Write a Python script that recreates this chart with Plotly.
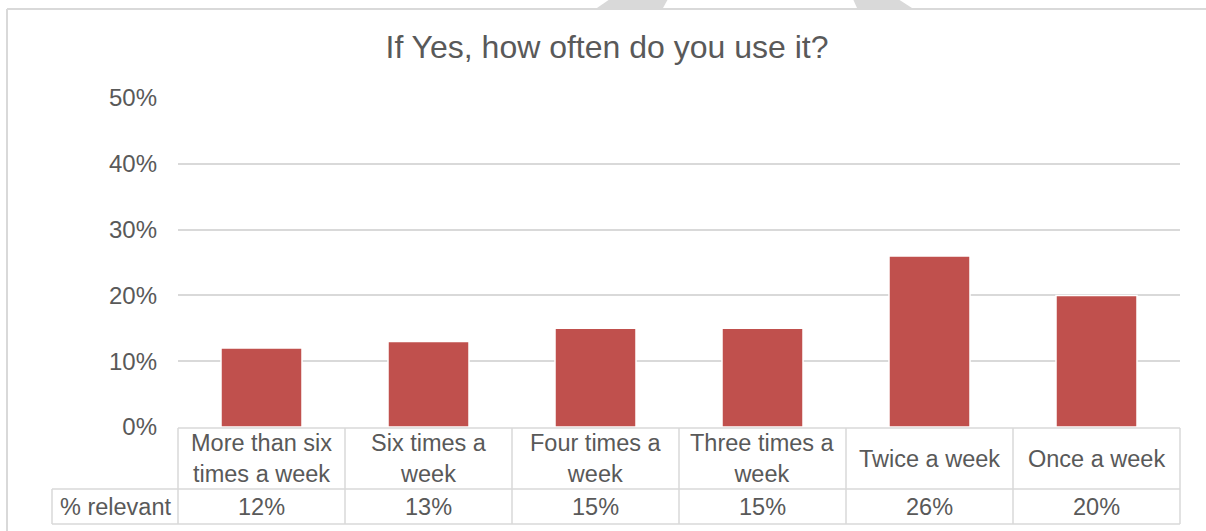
import plotly.graph_objects as go

# Survey answers: frequency of use (share of respondents)
categories = [
    "More than six<br>times a week",
    "Six times a<br>week",
    "Four times a<br>week",
    "Three times a<br>week",
    "Twice a week",
    "Once a week",
]
shares = [0.12, 0.13, 0.15, 0.15, 0.26, 0.20]
row_label = "% relevant"
title_text = "If Yes, how often do you use it?"
y_ticks = [0, 0.1, 0.2, 0.3, 0.4, 0.5]

W, H = 1206, 531
PLOT_L, PLOT_R = 178, 1180
PLOT_T, PLOT_B = 98, 427

TEXT = "#595959"
GRID = "#d9d9d9"
BAR = "#c0504d"
FONT = "Liberation Sans, Arial, sans-serif"
FS = 23.5


def px_x(px):
    return (px - PLOT_L) / (PLOT_R - PLOT_L)


def px_y(py):
    return (PLOT_B - py) / (PLOT_B - PLOT_T)


fig = go.Figure(
    go.Bar(
        x=categories,
        y=shares,
        marker=dict(color=BAR, line=dict(color="white", width=1.5)),
        width=0.485,
        hoverinfo="skip",
    )
)

shapes = []
line = dict(color=GRID, width=1.5)

# data table under the axis
n = len(categories)
row_top, row_mid, row_bot = px_y(428), px_y(489), px_y(524)
label_left = px_x(52)
shapes.append(dict(type="line", xref="paper", yref="paper", x0=0, x1=1, y0=row_top, y1=row_top, line=line))
shapes.append(dict(type="line", xref="paper", yref="paper", x0=label_left, x1=1, y0=row_mid, y1=row_mid, line=line))
shapes.append(dict(type="line", xref="paper", yref="paper", x0=label_left, x1=1, y0=row_bot, y1=row_bot, line=line))
shapes.append(dict(type="line", xref="paper", yref="paper", x0=label_left, x1=label_left, y0=row_mid, y1=row_bot, line=line))
for k in range(n + 1):
    shapes.append(dict(type="line", xref="paper", yref="paper", x0=k / n, x1=k / n, y0=row_top, y1=row_bot, line=line))

# chart frame
frame = dict(color=GRID, width=2)
shapes.append(dict(type="line", xref="paper", yref="paper", x0=px_x(7), x1=px_x(W), y0=px_y(9), y1=px_y(9), line=frame))
shapes.append(dict(type="line", xref="paper", yref="paper", x0=px_x(7), x1=px_x(7), y0=px_y(9), y1=px_y(H), line=frame))

# grey shape pieces peeking above the frame
def poly(points):
    d = "M " + " L ".join(f"{px_x(a)},{px_y(b)}" for a, b in points) + " Z"
    return dict(type="path", xref="paper", yref="paper", path=d, fillcolor=GRID, line=dict(width=0))

shapes.append(poly([(597, 8), (663, 8), (668, -1), (610, -1)]))
shapes.append(poly([(857, 8), (912, 8), (898, -1), (853, -1)]))

annotations = []
for cat, v in zip(categories, shares):
    annotations.append(dict(
        x=cat, xref="x", y=(row_top + row_mid) / 2, yref="paper",
        text=cat, showarrow=False, xanchor="center", yanchor="middle",
        font=dict(size=FS, color=TEXT, family=FONT),
    ))
    annotations.append(dict(
        x=cat, xref="x", y=(row_mid + row_bot) / 2, yref="paper",
        text=f"{round(v * 100)}%", showarrow=False, xanchor="center", yanchor="middle",
        font=dict(size=FS, color=TEXT, family=FONT),
    ))
annotations.append(dict(
    x=label_left / 2, xref="paper", y=(row_mid + row_bot) / 2, yref="paper",
    text=row_label, showarrow=False, xanchor="center", yanchor="middle",
    font=dict(size=FS, color=TEXT, family=FONT),
))

fig.update_layout(
    width=W,
    height=H,
    margin=dict(l=PLOT_L, r=W - PLOT_R, t=PLOT_T, b=H - PLOT_B),
    paper_bgcolor="white",
    plot_bgcolor="white",
    showlegend=False,
    title=dict(
        text=title_text, x=607 / W,
        xanchor="center", y=1 - 47 / H, yanchor="middle",
        font=dict(size=32, color=TEXT, family=FONT),
    ),
    xaxis=dict(showticklabels=False, showgrid=False, zeroline=False, showline=False,
               range=[-0.5, n - 0.5]),
    yaxis=dict(range=[0, 0.5], tickvals=y_ticks, tickformat=".0%",
               showgrid=True, gridcolor=GRID, gridwidth=1.5,
               zeroline=False, showline=False, ticks="",
               ticklabelstandoff=20,
               tickfont=dict(size=24, color=TEXT, family=FONT)),
    shapes=shapes,
    annotations=annotations,
    bargap=0.5,
)

fig.write_html("out.html")
